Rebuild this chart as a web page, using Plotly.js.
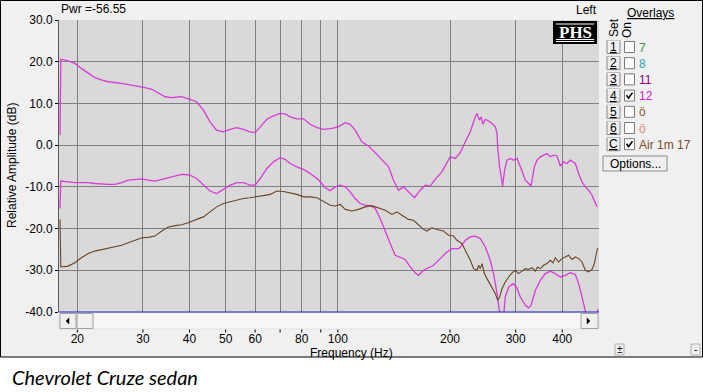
<!DOCTYPE html>
<html>
<head>
<meta charset="utf-8">
<script src="https://cdn.plot.ly/plotly-3.0.1.min.js"></script>
<style>
html,body{margin:0;padding:0;background:#fff;}
#chart{width:703px;height:392px;}
</style>
</head>
<body>
<div id="chart"></div>
<script>
// ---------- data ----------
const freqUpper = [17.97,18.06,18.9,19.7,20.5,21.4,22.3,23.3,24.2,26.3,28.6,30.4,31.7,33.0,34.4,35.8,38.1,39.7,41.8,43.6,45.4,47.3,49.3,51.4,53.6,55.8,58.1,60.0,61.9,64.5,67.2,70.0,72.2,74.5,77.6,80.9,84.3,87.9,91.6,96.4,100.3,104.7,107.9,111.3,116.0,120.8,126.0,131.3,136.8,141.1,145.5,150.1,154.8,160.6,166.4,171.6,177.0,182.5,190.2,200.2,206.5,213.1,219.8,226.7,233.8,236.3,239.7,242.2,245.2,248.7,253.9,259.3,264.6,267.4,268.4,271.7,276.8,280.2,284.4,290.3,296.3,302.6,308.8,314.0,318.5,325.0,329.9,336.7,342.3,349.4,356.6,364.1,371.7,379.3,387.3,395.3,403.5,412.1,420.5,433.7,442.6,452.0,461.3,470.8,480.8,490.7,496.0];
const dbUpper = [2.4,20.6,20.2,19.6,18.4,17.2,16.2,15.6,15.2,14.8,14.3,13.8,13.4,12.6,11.6,11.4,11.6,11.1,10.4,8.4,5.6,3.6,3.2,3.8,4.2,3.8,3.2,3.0,4.4,6.2,7.0,7.6,7.5,6.8,6.3,6.3,5.0,4.2,3.8,4.0,4.4,5.4,5.0,3.6,0.8,-0.2,-1.8,-3.6,-5.2,-8.4,-10.8,-10.0,-11.2,-12.6,-10.8,-9.6,-9.8,-8.2,-6.4,-2.8,-3.2,-1.8,0.8,3.2,6.8,7.6,6.0,6.8,5.0,6.2,5.8,5.2,4.4,2.8,-0.4,-5.2,-9.8,-6.0,-3.6,-3.2,-3.6,-3.2,-5.2,-7.2,-8.4,-9.2,-9.8,-5.2,-3.6,-2.8,-2.4,-2.0,-2.8,-2.4,-2.6,-5.0,-4.0,-4.4,-3.6,-4.4,-6.8,-8.8,-10.0,-10.8,-12.0,-13.6,-14.8];

const freqMiddle = [17.97,18.06,18.9,19.7,20.5,21.4,22.3,23.3,24.2,25.2,26.3,27.4,28.6,29.8,31.0,32.3,33.7,35.1,36.6,38.1,39.7,40.1,41.8,43.6,45.4,47.3,49.3,51.4,53.6,55.8,58.1,60.0,61.9,64.5,67.2,70.0,72.2,74.5,77.6,80.9,84.3,87.9,90.6,92.5,95.4,98.4,101.5,104.7,107.9,111.3,114.8,118.4,122.1,126.0,129.9,134.0,138.2,142.5,147.0,151.6,156.4,161.3,164.6,169.8,175.1,180.6,188.3,196.2,202.4,210.7,213.1,219.8,226.7,233.8,241.1,248.7,256.4,261.7,267.4,271.2,275.7,278.4,281.3,287.3,295.2,301.3,308.8,318.5,325.0,329.9,338.9,349.4,360.3,371.7,383.3,395.3,407.8,420.5,433.7,442.6,452.0,461.3,467.9,492.0,499.0];
const dbMiddle = [-15.2,-8.6,-8.8,-9.0,-9.0,-9.0,-9.2,-9.4,-9.4,-9.4,-9.0,-8.4,-8.2,-8.1,-8.4,-8.6,-8.2,-7.8,-7.3,-7.0,-7.1,-7.2,-8.0,-9.6,-11.0,-11.6,-10.6,-9.6,-9.0,-9.0,-9.6,-9.6,-8.0,-5.6,-4.0,-3.0,-3.4,-4.4,-5.2,-5.8,-6.8,-8.0,-9.2,-10.2,-10.9,-10.0,-9.6,-10.0,-11.2,-12.8,-14.0,-14.4,-14.5,-15.2,-17.6,-20.4,-23.6,-26.4,-27.0,-27.4,-29.2,-30.6,-31.2,-30.0,-29.4,-28.8,-27.2,-25.6,-24.8,-24.8,-24.5,-22.8,-22.0,-21.8,-22.4,-24.4,-27.6,-30.8,-35.6,-39.6,-42.0,-41.0,-36.4,-34.0,-33.2,-34.0,-36.4,-38.4,-39.0,-38.4,-34.8,-32.4,-30.8,-30.2,-30.8,-31.6,-31.2,-30.6,-31.0,-33.2,-36.4,-39.6,-42.0,-42.0,-39.3];

const freqBrown = [17.97,18.06,18.9,19.7,20.5,21.4,22.3,23.3,24.2,25.2,26.3,27.4,28.6,29.8,31.0,32.3,33.7,35.1,36.6,38.1,39.7,40.1,41.8,43.6,45.4,47.3,49.3,51.4,53.6,55.8,58.1,60.6,63.1,65.8,68.6,71.5,74.5,77.6,80.9,84.3,87.9,91.6,95.4,98.4,101.5,104.7,109.0,113.6,118.4,123.4,128.6,134.0,139.7,144.1,148.6,154.8,159.6,164.6,169.8,173.4,178.8,184.4,192.1,198.2,204.4,208.7,215.3,217.5,222.1,226.7,231.4,236.3,238.7,241.1,243.8,247.2,251.3,255.4,259.3,264.6,268.4,271.7,275.7,281.3,287.3,293.3,299.3,305.5,312.0,318.5,325.0,331.9,338.9,343.5,349.4,356.6,364.1,371.7,377.9,383.3,391.2,399.4,407.8,416.1,424.9,433.7,442.6,452.0,461.3,470.8,480.8,487.7,496.0,498.9];
const dbBrown = [-17.8,-29.2,-29.0,-28.2,-27.0,-26.0,-25.4,-25.0,-24.8,-24.4,-24.0,-23.4,-22.8,-22.2,-22.1,-21.8,-20.6,-19.6,-19.3,-19.1,-18.6,-18.4,-17.8,-17.2,-16.0,-14.8,-14.0,-13.6,-13.2,-12.8,-12.6,-12.4,-12.1,-11.8,-11.0,-11.1,-11.4,-11.8,-12.4,-12.4,-12.6,-13.6,-14.4,-14.6,-14.2,-15.4,-15.8,-15.4,-14.8,-14.5,-15.0,-15.6,-16.6,-16.0,-16.8,-17.8,-18.0,-19.2,-20.2,-20.6,-19.8,-20.2,-20.6,-21.6,-21.8,-22.8,-23.6,-24.4,-26.0,-27.6,-29.6,-30.0,-28.8,-29.6,-28.4,-30.8,-32.0,-33.2,-34.0,-35.6,-37.2,-36.4,-34.4,-32.8,-31.6,-30.6,-30.0,-30.8,-30.2,-29.6,-29.8,-29.4,-30.2,-29.2,-29.6,-28.8,-28.4,-27.6,-28.2,-27.0,-28.0,-27.2,-26.8,-26.4,-27.4,-26.8,-27.2,-28.0,-30.0,-30.4,-29.8,-28.4,-25.2,-24.7];

const xTickVals = [20,30,40,50,60,70,80,90,100,200,300,400];
const xTickText = ['20','30','40','50','60','','80','','100','200','300','400'];
const yTickVals = [-40,-30,-20,-10,0,10,20,30];
const yTickText = ['-40.0','-30.0','-20.0','-10.0','0.0','10.0','20.0','30.0'];

const overlaySets = ['1','2','3','4','5','6','C'];
const overlayNames = ['7','8','11','12','ö','ö','Air 1m 17'];
const overlayColors = ['#3a9a3a','#22aabb','#800080','#d020d0','#9a5a2a','#e08a6a','#7a4a2a'];
const overlayOn = [false,false,false,true,false,false,true];

// ---------- layout helpers (pixel -> paper) ----------
const L = 59, R = 599, T = 20, B = 312;
const W = R - L, H = B - T;
const px = x => (x - L) / W;
const py = y => (B - y) / H;
const FONT = 'Liberation Sans, Arial, sans-serif';

const shapes = [];
const ann = [];
function rect(x0, y0, x1, y1, fill, line, lw, layer) {
  shapes.push({type:'rect', xref:'paper', yref:'paper', x0:px(x0), x1:px(x1), y0:py(y0), y1:py(y1),
    fillcolor: fill || 'rgba(0,0,0,0)', line:{color: line || 'rgba(0,0,0,0)', width: lw === undefined ? 1 : lw}, layer: layer || 'above'});
}
function seg(x0, y0, x1, y1, color, lw) {
  shapes.push({type:'line', xref:'paper', yref:'paper', x0:px(x0), x1:px(x1), y0:py(y0), y1:py(y1),
    line:{color: color, width: lw || 1}, layer:'above'});
}
function poly(pts, fill, line, lw) {
  let d = 'M' + pts.map(p => px(p[0]) + ',' + py(p[1])).join(' L') + (fill ? ' Z' : '');
  shapes.push({type:'path', xref:'paper', yref:'paper', path:d, fillcolor: fill || 'rgba(0,0,0,0)',
    line:{color: line || 'rgba(0,0,0,0)', width: lw === undefined ? 1 : lw}, layer:'above'});
}
function txt(x, y, text, o) {
  o = o || {};
  ann.push({xref:'paper', yref:'paper', x:px(x), y:py(y), text:text, showarrow:false,
    xanchor:o.xa || 'left', yanchor:o.ya || 'middle', textangle:o.angle || 0,
    font:{family:o.family || FONT, size:o.size || 12, color:o.color || '#000', weight:o.weight, style:o.style},
    borderpad:0, xshift:0, yshift:0});
}

// caption area (white) + window frame
rect(-2, 357, 705, 394, '#ffffff', null, 0, 'below');
rect(0.5, 0.5, 702.5, 357, null, '#000000', 1);

// scrollbar below plot
rect(59, 312.5, 599, 329, '#f6f6f6', '#e2e2e2', 1);
rect(60, 313.5, 76, 328.5, '#f0f0f0', '#a0a0a0', 1);
rect(77, 313.5, 93, 328.5, '#f0f0f0', '#a0a0a0', 1);
rect(581, 313.5, 598, 328.5, '#f0f0f0', '#a0a0a0', 1);
poly([[66,321],[69,318],[69,324]], '#000', '#000', 0.5);
poly([[590,321],[587,318],[587,324]], '#000', '#000', 0.5);
seg(59, 312, 599, 312, '#1a1acc', 1.2);

// short tick marks below the scrollbar, placed through the x axis scale
xTickVals.forEach(v => {
  shapes.push({type:'line', xref:'x', yref:'paper', x0:v, x1:v, y0:py(329.5), y1:py(332.5),
    line:{color:'#000', width:1}, layer:'above'});
});

// PHS logo
rect(553, 21, 597, 44, '#000000', '#000000', 0);
seg(556, 24, 594, 24, '#ffffff', 1);
seg(556, 39.5, 594, 39.5, '#ffffff', 1);
seg(556, 41.5, 594, 41.5, '#ffffff', 1);
txt(575, 32, 'PHS', {xa:'center', size:17, weight:'bold', color:'#ffffff', family:'Liberation Serif, Times New Roman, serif'});

// top texts
txt(60, 9, 'Pwr =-56.55');
txt(598, 10, 'Left', {xa:'right'});

// overlays panel
txt(626, 13, '<u>Overlays</u>');
txt(614, 28, 'Set', {xa:'center', angle:-90});
txt(627, 30, 'On', {xa:'center', angle:-90});
for (let i = 0; i < overlaySets.length; i++) {
  const cy = 47 + i * 16.2;
  rect(607, cy - 6.5, 620, cy + 6.5, '#efefef', '#8a8a8a', 1);
  seg(607.5, cy - 6, 619.5, cy - 6, '#ffffff', 1);
  txt(613.5, cy, '<u>' + overlaySets[i] + '</u>', {xa:'center', size:12});
  rect(624.5, cy - 5.5, 634.5, cy + 5.5, '#ffffff', '#7a7a7a', 1);
  if (overlayOn[i]) {
    poly([[626.5,cy-0.5],[628.5,cy+2.5],[632.5,cy-3]], null, '#000000', 1.6);
  }
  txt(638, cy + 0.5, overlayNames[i], {color: overlayColors[i], size:12});
}
rect(603, 156, 667, 171, '#efefef', '#8a8a8a', 1);
txt(635, 163.5, 'Options...', {xa:'center'});

// small buttons bottom right
rect(615, 344, 624, 355, '#f0f0f0', '#b0b0b0', 1);
txt(619.5, 349, '±', {xa:'center', size:10});
rect(691, 344, 700, 355, '#f0f0f0', '#b0b0b0', 1);
txt(695.5, 349, '-', {xa:'center', size:10});

// axis titles & caption
txt(351, 353, 'Frequency (Hz)', {xa:'center'});
txt(12, 166, 'Relative Amplitude (dB)', {xa:'center', angle:-90});
txt(11, 377, 'Chevrolet Cruze sedan', {size:20, style:'italic', family:'Lato, Open Sans, sans-serif'});

const traces = [
  {x: freqUpper, y: dbUpper, type:'scatter', mode:'lines', line:{color:'#d83cd8', width:1.3}, hoverinfo:'skip'},
  {x: freqMiddle, y: dbMiddle, type:'scatter', mode:'lines', line:{color:'#d83cd8', width:1.3}, hoverinfo:'skip'},
  {x: freqBrown, y: dbBrown, type:'scatter', mode:'lines', line:{color:'#6b4422', width:1.1}, hoverinfo:'skip'}
];

const layout = {
  width:703, height:392,
  margin:{l:L, r:703 - R, t:T, b:392 - B, pad:0},
  paper_bgcolor:'#f0f0f0',
  plot_bgcolor:'#d9d9d9',
  showlegend:false,
  font:{family:FONT, size:12, color:'#000'},
  xaxis:{
    type:'log', range:[Math.log10(17.86), Math.log10(502)],
    tickvals:xTickVals, ticktext:xTickText,
    ticks:'outside', ticklen:16, tickcolor:'#000', tickwidth:1,
    showgrid:true, gridcolor:'#7f7f7f', gridwidth:1,
    showline:false, zeroline:false,
    tickfont:{family:FONT, size:12, color:'#000'},
    fixedrange:true
  },
  yaxis:{
    range:[-40, 30], tickvals:yTickVals, ticktext:yTickText,
    ticks:'outside', ticklen:3, tickcolor:'#000',
    showgrid:true, gridcolor:'#7f7f7f', gridwidth:1,
    showline:true, linecolor:'#5a5a5a', linewidth:1,
    zeroline:false,
    tickfont:{family:FONT, size:12, color:'#000'},
    fixedrange:true
  },
  shapes:shapes,
  annotations:ann
};

Plotly.newPlot('chart', traces, layout, {displayModeBar:false, staticPlot:true});
</script>
</body>
</html>
